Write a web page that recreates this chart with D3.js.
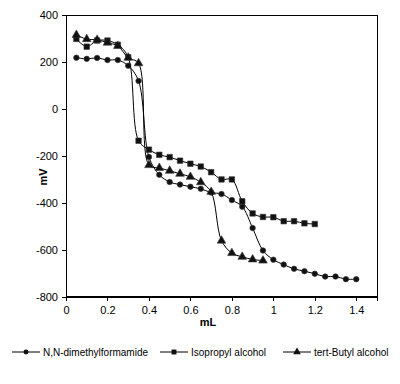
<!DOCTYPE html>
<html>
<head>
<meta charset="utf-8">
<script src="https://cdn.jsdelivr.net/npm/d3@7"></script>
<style>
  body { margin: 0; background: #fff; }
  text { font-family: Arial, "Liberation Sans", sans-serif; }
</style>
</head>
<body>
<script>
// DATA
var xValues = [0.05, 0.1, 0.15, 0.2, 0.25, 0.3, 0.35, 0.4, 0.45, 0.5, 0.55, 0.6, 0.65, 0.7,
  0.75, 0.8, 0.85, 0.9, 0.95, 1.0, 1.05, 1.1, 1.15, 1.2, 1.25, 1.3, 1.35, 1.4];

var dmf = [218, 213, 217, 208, 208, 184, 119, -205, -281, -312, -323, -332, -341, -357,
  -363, -389, -417, -508, -604, -643, -664, -682, -692, -703, -715, -715, -726, -726];
var isopropyl = [298, 265, 291, 291, 273, 220, -136, -174, -196, -206, -221, -234, -246, -270,
  -301, -301, -394, -446, -461, -462, -479, -479, -488, -491];
var tertButyl = [315, 297, 294, 282, 268, 218, 194, -240, -252, -264, -277, -290, -313, -354,
  -562, -615, -631, -642, -647];

var seriesNames = ["N,N-dimethylformamide", "Isopropyl alcohol", "tert-Butyl alcohol"];
var xTicks = [0, 0.2, 0.4, 0.6, 0.8, 1, 1.2, 1.4];
var yTicks = [400, 200, 0, -200, -400, -600, -800];

var width = 400, height = 384;

var svg = d3.select("body").append("svg")
  .attr("width", width)
  .attr("height", height);

var x = d3.scaleLinear().domain([0, 1.5]).range([66, 377]);
var y = d3.scaleLinear().domain([-800, 400]).range([296.5, 15]);

// plot frame
svg.append("rect")
  .attr("x", x(0)).attr("y", y(400))
  .attr("width", x(1.5) - x(0)).attr("height", y(-800) - y(400))
  .attr("fill", "none").attr("stroke", "#000").attr("stroke-width", 1)
  .attr("shape-rendering", "crispEdges");

// axes
var xAxis = svg.append("g")
  .attr("transform", "translate(0," + y(-800) + ")")
  .call(d3.axisBottom(x).tickValues(xTicks).tickSize(4).tickPadding(6)
    .tickFormat(function (d) { return d; }));
var yAxis = svg.append("g")
  .attr("transform", "translate(" + x(0) + ",0)")
  .call(d3.axisLeft(y).tickValues(yTicks).tickSize(4).tickPadding(4)
    .tickFormat(function (d) { return d; }));

[xAxis, yAxis].forEach(function (a) {
  a.select(".domain").attr("stroke", "#000").attr("shape-rendering", "crispEdges");
  a.selectAll(".tick line").attr("stroke", "#000").attr("shape-rendering", "crispEdges");
  a.selectAll("text").attr("font-size", 11).attr("fill", "#000")
    .attr("font-family", "Arial, 'Liberation Sans', sans-serif");
});

// axis titles
svg.append("text")
  .attr("x", 208).attr("y", 326)
  .attr("text-anchor", "middle")
  .attr("font-size", 11).attr("font-weight", "bold")
  .text("mL");
svg.append("text")
  .attr("transform", "translate(47,177) rotate(-90)")
  .attr("text-anchor", "middle")
  .attr("font-size", 11).attr("font-weight", "bold")
  .text("mV");

var series = [
  { name: seriesNames[0], values: dmf, symbol: d3.symbolCircle, size: 24 },
  { name: seriesNames[1], values: isopropyl, symbol: d3.symbolSquare, size: 30 },
  { name: seriesNames[2], values: tertButyl, symbol: d3.symbolTriangle, size: 32 }
];

var line = d3.line()
  .x(function (d) { return x(d[0]); })
  .y(function (d) { return y(d[1]); })
  .curve(d3.curveCatmullRom.alpha(0.5));

series.forEach(function (s) {
  var pts = s.values.map(function (v, i) { return [xValues[i], v]; });
  svg.append("path")
    .datum(pts)
    .attr("d", line)
    .attr("fill", "none")
    .attr("stroke", "#000")
    .attr("stroke-width", 1);
  svg.append("g").selectAll("path")
    .data(pts)
    .enter().append("path")
    .attr("transform", function (d) { return "translate(" + x(d[0]) + "," + y(d[1]) + ")"; })
    .attr("d", d3.symbol().type(s.symbol).size(s.size))
    .attr("fill", "#111")
    .attr("stroke", "#333")
    .attr("stroke-width", 0.6);
});

// legend
var legendX = [12, 160, 283];
var legend = svg.append("g").attr("transform", "translate(0,352)");
series.forEach(function (s, i) {
  var g = legend.append("g").attr("transform", "translate(" + legendX[i] + ",0)");
  g.append("line")
    .attr("x1", 0).attr("x2", 28).attr("y1", 0).attr("y2", 0)
    .attr("stroke", "#000").attr("stroke-width", 1);
  g.append("path")
    .attr("transform", "translate(14,0)")
    .attr("d", d3.symbol().type(s.symbol).size(s.size * 0.8))
    .attr("fill", "#111");
  g.append("text")
    .attr("x", 31).attr("y", 4)
    .attr("font-size", 10)
    .text(s.name);
});
</script>
</body>
</html>
